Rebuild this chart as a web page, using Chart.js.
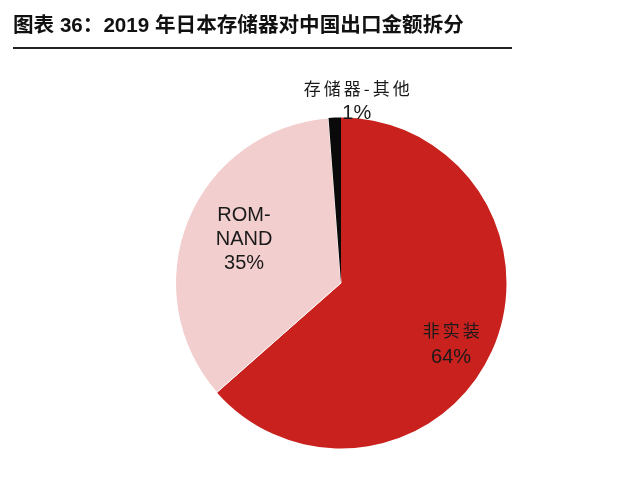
<!DOCTYPE html>
<html>
<head>
<meta charset="utf-8">
<script src="https://cdn.jsdelivr.net/npm/chart.js@4"></script>
<style>
  html, body { margin: 0; padding: 0; background: #fff; }
  #wrap { position: relative; width: 640px; height: 494px; }
  #title {
    position: absolute; left: 13px; top: 12px; width: 499px;
    font-family: "Liberation Sans", "Noto Sans CJK SC", sans-serif;
    font-weight: bold; font-size: 20.6px; line-height: 26px; color: #111;
    border-bottom: 2px solid #222; padding-bottom: 9px; white-space: nowrap;
  }
  #c { position: absolute; left: 0; top: 0; }
</style>
</head>
<body>
<div id="wrap">
  <canvas id="c" width="640" height="494"></canvas>
  <div id="title">图表 36：2019 年日本存储器对中国出口金额拆分</div>
</div>
<script>
const categories = ["非实装", "ROM-NAND", "存储器-其他"];
const values = [63.5, 35.3, 1.2];
const valueLabels = ["64%", "35%", "1%"];
const labelLines = [["非实装"], ["ROM-", "NAND"], ["存储器-其他"]];
const colors = ["#C8211E", "#F2CECE", "#0A0A0A"];

const labelPlugin = {
  id: 'sliceLabels',
  afterDatasetsDraw(chart) {
    const ctx = chart.ctx;
    const meta = chart.getDatasetMeta(0);
    const place = [
      { f: 0.75, dx: -3, dy: 10, gap: 27 },
      { f: 0.60, dx: -5, dy: -6, gap: 24 },
      { f: 1.0, dx: 22, dy: -17, gap: 25 }
    ];
    meta.data.forEach((arc, i) => {
      const p = arc.getProps(['x', 'y', 'startAngle', 'endAngle', 'outerRadius'], true);
      const a = (p.startAngle + p.endAngle) / 2;
      const cx = p.x + Math.cos(a) * p.outerRadius * place[i].f + place[i].dx;
      const cy = p.y + Math.sin(a) * p.outerRadius * place[i].f + place[i].dy;
      const lines = labelLines[i].map(t => ({ t, cjk: /[\u4e00-\u9fff]/.test(t) }));
      lines.push({ t: valueLabels[i], cjk: false });
      const n = lines.length;
      ctx.save();
      ctx.fillStyle = '#1a1a1a';
      ctx.textAlign = 'center';
      ctx.textBaseline = 'middle';
      lines.forEach((ln, k) => {
        const y = cy + (k - (n - 1) / 2) * place[i].gap;
        if (ln.cjk) {
          ctx.font = '17px "Noto Sans CJK SC", sans-serif';
          ctx.letterSpacing = '3px';
          ctx.fillText(ln.t, cx + 1.5, y);
        } else {
          ctx.font = '20px "Liberation Sans", Arial, sans-serif';
          ctx.letterSpacing = '0px';
          ctx.fillText(ln.t, cx, y);
        }
      });
      ctx.restore();
    });
  }
};

new Chart(document.getElementById('c'), {
  type: 'pie',
  data: {
    labels: categories,
    datasets: [{
      data: values,
      backgroundColor: colors,
      borderColor: '#ffffff',
      borderWidth: [0, 1, 0]
    }]
  },
  options: {
    responsive: false,
    animation: false,
    rotation: 0,
    layout: { padding: { left: 175, right: 133, top: 117, bottom: 45 } },
    plugins: {
      legend: { display: false },
      tooltip: { enabled: false },
      title: { display: false }
    }
  },
  plugins: [labelPlugin]
});
</script>
</body>
</html>
